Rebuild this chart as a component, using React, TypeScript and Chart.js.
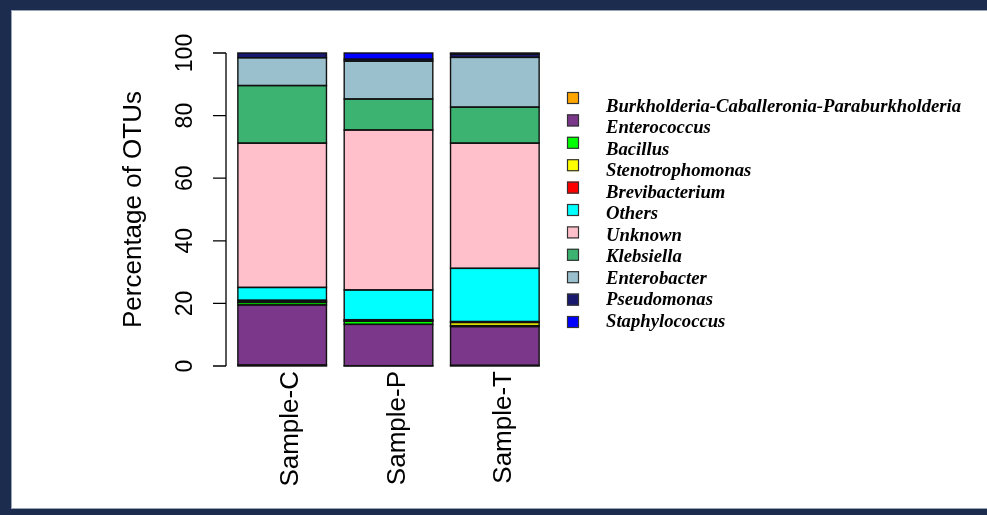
import React, { useEffect, useRef } from "react";
import { Chart, registerables } from "chart.js";

Chart.register(...registerables);

// ---- data ----
const samples = ["Sample-C", "Sample-P", "Sample-T"];
const genera = [
  "Burkholderia-Caballeronia-Paraburkholderia",
  "Enterococcus",
  "Bacillus",
  "Stenotrophomonas",
  "Brevibacterium",
  "Others",
  "Unknown",
  "Klebsiella",
  "Enterobacter",
  "Pseudomonas",
  "Staphylococcus",
];
const burkholderia = [0.3, 0.1, 0.2];
const enterococcus = [19.2, 13.2, 12.4];
const bacillus = [0.8, 1.0, 0.3];
const stenotrophomonas = [0.3, 0.2, 1.0];
const brevibacterium = [0.4, 0.3, 0.3];
const others = [4.1, 9.5, 17.0];
const unknown = [46.1, 51.1, 40.0];
const klebsiella = [18.4, 9.9, 11.5];
const enterobacter = [8.9, 12.1, 15.9];
const pseudomonas = [1.5, 0.6, 1.1];
const staphylococcus = [0.0, 2.0, 0.3];
const seriesValues = [
  burkholderia,
  enterococcus,
  bacillus,
  stenotrophomonas,
  brevibacterium,
  others,
  unknown,
  klebsiella,
  enterobacter,
  pseudomonas,
  staphylococcus,
];
const colors = [
  "#FFA500",
  "#7B388A",
  "#00FF00",
  "#FFFF00",
  "#FF0000",
  "#00FFFF",
  "#FFC0CB",
  "#3CB371",
  "#9AC0CD",
  "#191970",
  "#0000FF",
];
const yTicks = [0, 20, 40, 60, 80, 100];
const yTitle = "Percentage of OTUs";

const W = 987;
const H = 515;

// R-style centred outlines around every stacked rectangle
const outlinePlugin = {
  id: "rOutlines",
  afterDatasetsDraw(chart: any) {
    const ctx = chart.ctx;
    ctx.save();
    ctx.strokeStyle = "#111";
    ctx.lineWidth = 1.4;
    chart.data.datasets.forEach((_d: any, di: number) => {
      const meta = chart.getDatasetMeta(di);
      meta.data.forEach((el: any) => {
        const p = el.getProps(["x", "y", "base", "width"], true);
        const top = Math.min(p.y, p.base);
        const h = Math.abs(p.base - p.y);
        if (h <= 0) return;
        ctx.strokeRect(p.x - p.width / 2, top, p.width, h);
      });
    });
    ctx.restore();
  },
};

const rAxesPlugin = {
  id: "rAxes",
  afterDraw(chart: any) {
    const ctx = chart.ctx;
    const ys = chart.scales.y;
    const xs = chart.scales.x;
    const area = chart.chartArea;
    ctx.save();
    // y axis line + ticks
    const axisX = area.left - 3;
    ctx.strokeStyle = "#000";
    ctx.lineWidth = 1.3;
    ctx.beginPath();
    ctx.moveTo(axisX, ys.getPixelForValue(yTicks[0]));
    ctx.lineTo(axisX, ys.getPixelForValue(yTicks[yTicks.length - 1]));
    for (const t of yTicks) {
      const py = ys.getPixelForValue(t);
      ctx.moveTo(axisX, py);
      ctx.lineTo(axisX - 13, py);
    }
    ctx.stroke();

    ctx.fillStyle = "#000";
    ctx.font = "23px 'Liberation Sans', Arial, sans-serif";
    ctx.textAlign = "center";
    ctx.textBaseline = "middle";
    for (const t of yTicks) {
      const py = ys.getPixelForValue(t);
      ctx.save();
      ctx.translate(186, py);
      ctx.rotate(-Math.PI / 2);
      ctx.fillText(String(t), 0, 0);
      ctx.restore();
    }
    // y title
    ctx.font = "26px 'Liberation Sans', Arial, sans-serif";
    ctx.save();
    ctx.translate(134, (ys.getPixelForValue(0) + ys.getPixelForValue(100)) / 2);
    ctx.rotate(-Math.PI / 2);
    ctx.fillText(yTitle, 0, 0);
    ctx.restore();

    // x labels
    ctx.textAlign = "right";
    samples.forEach((s, i) => {
      const px = xs.getPixelForValue(i);
      ctx.save();
      ctx.translate(px + 9, area.bottom + 5);
      ctx.rotate(-Math.PI / 2);
      ctx.fillText(s, 0, 0);
      ctx.restore();
    });

    // legend
    ctx.textAlign = "left";
    ctx.textBaseline = "alphabetic";
    ctx.font = "italic bold 18.7px 'Liberation Serif', 'Times New Roman', serif";
    genera.forEach((g, i) => {
      const by = 92 + 22.4 * i;
      ctx.fillStyle = colors[i];
      ctx.fillRect(567, by, 12, 12);
      ctx.strokeStyle = "#333";
      ctx.lineWidth = 1.2;
      ctx.strokeRect(567.5, by + 0.5, 11, 11);
      ctx.fillStyle = "#000";
      ctx.fillText(g, 606, 111.5 + 21.5 * i);
    });
    ctx.restore();
  },
};

export default function App() {
  const ref = useRef<HTMLCanvasElement | null>(null);
  useEffect(() => {
    if (!ref.current) return;
    const chart = new Chart(ref.current, {
      type: "bar",
      data: {
        labels: samples,
        datasets: genera.map((g, i) => ({
          label: g,
          data: seriesValues[i],
          backgroundColor: colors[i],
          borderWidth: 0,
          categoryPercentage: 1,
          barPercentage: 1 / 1.2,
        })),
      },
      options: {
        responsive: false,
        animation: false,
        layout: { padding: { left: 229, right: W - 548, top: 53, bottom: H - 366 } },
        plugins: { legend: { display: false }, tooltip: { enabled: false } },
        scales: {
          x: { stacked: true, display: false },
          y: { stacked: true, display: false, min: 0, max: 100 },
        },
      },
      plugins: [outlinePlugin, rAxesPlugin],
    });
    return () => chart.destroy();
  }, []);
  return (
    <div style={{ position: "absolute", left: 0, top: 0, width: W, height: H, background: "#fff", overflow: "hidden" }}>
      <div
        style={{
          position: "absolute",
          left: 0,
          top: 0,
          width: W + 20,
          height: H,
          boxSizing: "border-box",
          borderLeft: "11px solid #1b2c4e",
          borderTop: "10px solid #1b2c4e",
          borderBottom: "6px solid #1b2c4e",
          boxShadow: "inset 1px 1px 0 #9aa3b3, inset 0 -1px 0 #9aa3b3",
        }}
      />
      <canvas ref={ref} width={W} height={H} style={{ position: "absolute", left: 0, top: 0 }} />
    </div>
  );
}
